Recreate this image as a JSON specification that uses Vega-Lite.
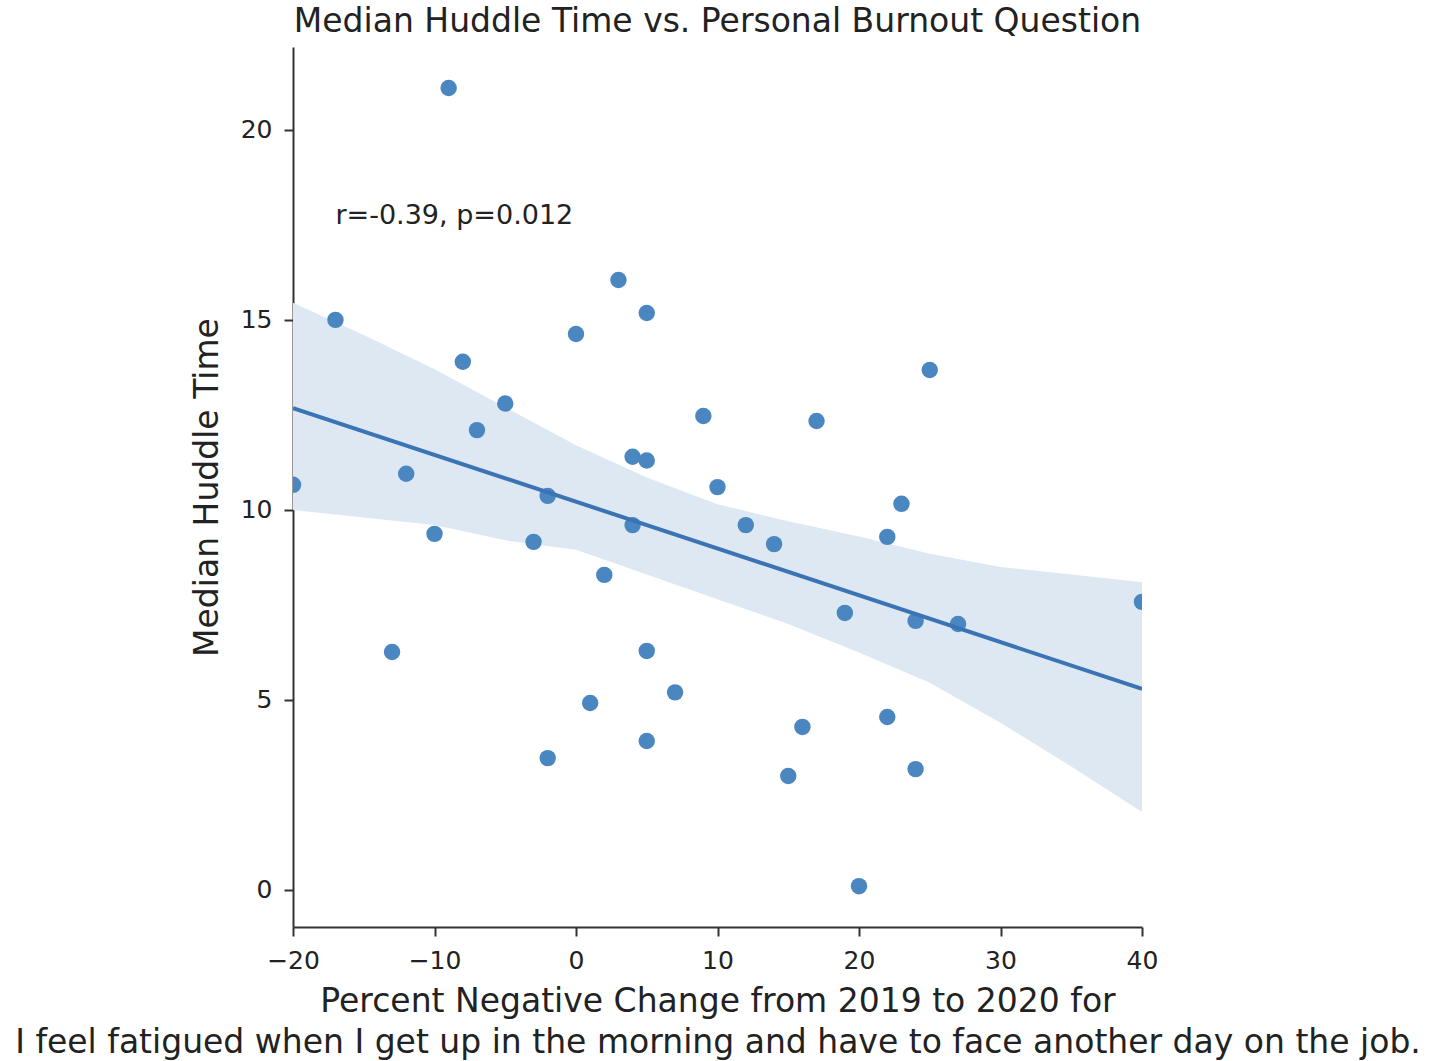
{
  "$schema": "https://vega.github.io/schema/vega-lite/v6.json",
  "autosize": {"type": "none"},
  "padding": {"left": 293, "top": 47, "right": 309, "bottom": 134},
  "width": 849,
  "height": 880,
  "background": "white",
  "title": {
    "text": "Median Huddle Time vs. Personal Burnout Question",
    "font": "DejaVu Sans",
    "fontSize": 33,
    "fontWeight": "normal",
    "color": "#222222",
    "anchor": "middle",
    "offset": 8
  },
  "config": {
    "view": {"stroke": null},
    "axis": {
      "grid": false,
      "domainColor": "#333333",
      "domainWidth": 2,
      "tickColor": "#333333",
      "tickWidth": 2,
      "tickSize": 9,
      "labelFont": "DejaVu Sans",
      "labelFontSize": 25,
      "labelColor": "#222222",
      "labelFlush": false,
      "labelOverlap": false,
      "labelBound": false,
      "titleFont": "DejaVu Sans",
      "titleFontSize": 33,
      "titleFontWeight": "normal",
      "titleColor": "#222222"
    }
  },
  "datasets": {
    "points": [
      {"change": -9, "huddle": 21.1},
      {"change": -17, "huddle": 15.0},
      {"change": -8, "huddle": 13.9},
      {"change": -5, "huddle": 12.8},
      {"change": -7, "huddle": 12.1},
      {"change": -12, "huddle": 10.95},
      {"change": -20, "huddle": 10.66},
      {"change": -10, "huddle": 9.37},
      {"change": -13, "huddle": 6.26},
      {"change": -2, "huddle": 10.37},
      {"change": -3, "huddle": 9.16},
      {"change": -2, "huddle": 3.47},
      {"change": 0, "huddle": 14.63},
      {"change": 3, "huddle": 16.05},
      {"change": 5, "huddle": 15.18},
      {"change": 4, "huddle": 11.4},
      {"change": 5, "huddle": 11.3},
      {"change": 4, "huddle": 9.6},
      {"change": 2, "huddle": 8.29},
      {"change": 5, "huddle": 6.29},
      {"change": 1, "huddle": 4.92},
      {"change": 5, "huddle": 3.92},
      {"change": 7, "huddle": 5.2},
      {"change": 9, "huddle": 12.47},
      {"change": 10, "huddle": 10.6},
      {"change": 12, "huddle": 9.6},
      {"change": 14, "huddle": 9.1},
      {"change": 17, "huddle": 12.34},
      {"change": 16, "huddle": 4.29},
      {"change": 15, "huddle": 3.0},
      {"change": 19, "huddle": 7.29},
      {"change": 20, "huddle": 0.1},
      {"change": 22, "huddle": 9.29},
      {"change": 22, "huddle": 4.55},
      {"change": 23, "huddle": 10.16},
      {"change": 24, "huddle": 7.08},
      {"change": 24, "huddle": 3.18},
      {"change": 25, "huddle": 13.68},
      {"change": 27, "huddle": 7.0},
      {"change": 40, "huddle": 7.58}
    ],
    "band": [
      {"change": -20, "lo": 10.0, "hi": 15.45},
      {"change": -15, "lo": 9.8, "hi": 14.6},
      {"change": -10, "lo": 9.6, "hi": 13.7},
      {"change": -5, "lo": 9.2, "hi": 12.7},
      {"change": 0, "lo": 8.95, "hi": 11.7},
      {"change": 5, "lo": 8.3, "hi": 10.85},
      {"change": 10, "lo": 7.65, "hi": 10.15},
      {"change": 15, "lo": 7.0, "hi": 9.7},
      {"change": 20, "lo": 6.25, "hi": 9.3},
      {"change": 25, "lo": 5.45, "hi": 8.85},
      {"change": 30, "lo": 4.4, "hi": 8.5},
      {"change": 35, "lo": 3.25, "hi": 8.3},
      {"change": 40, "lo": 2.05, "hi": 8.1}
    ],
    "fit": [
      {"change": -20, "huddle": 12.68},
      {"change": 40, "huddle": 5.29}
    ],
    "note": [
      {"change": -17, "huddle": 17.53, "label": "r=-0.39, p=0.012"}
    ]
  },
  "layer": [
    {
      "data": {"name": "band"},
      "mark": {"type": "area", "color": "#dde8f2", "opacity": 1, "clip": true},
      "encoding": {
        "x": {
          "field": "change",
          "type": "quantitative",
          "scale": {"domain": [-20, 40], "nice": false, "zero": false},
          "axis": {
            "values": [-20, -10, 0, 10, 20, 30, 40],
            "labelPadding": 12,
            "title": ["Percent Negative Change from 2019 to 2020 for", "I feel fatigued when I get up in the morning and have to face another day on the job."],
            "titlePadding": 12,
            "titleLineHeight": 41
          }
        },
        "y": {
          "field": "lo",
          "type": "quantitative",
          "scale": {"domain": [-0.974, 22.18], "nice": false, "zero": false},
          "axis": {
            "values": [0, 5, 10, 15, 20],
            "labelPadding": 12,
            "title": "Median Huddle Time",
            "titlePadding": 16
          }
        },
        "y2": {"field": "hi"}
      }
    },
    {
      "data": {"name": "points"},
      "mark": {"type": "circle", "size": 270, "color": "#4a86c0", "opacity": 1, "clip": true},
      "encoding": {
        "x": {"field": "change", "type": "quantitative"},
        "y": {"field": "huddle", "type": "quantitative"}
      }
    },
    {
      "data": {"name": "fit"},
      "mark": {"type": "line", "color": "#3a74b4", "strokeWidth": 4, "clip": true},
      "encoding": {
        "x": {"field": "change", "type": "quantitative"},
        "y": {"field": "huddle", "type": "quantitative"}
      }
    },
    {
      "data": {"name": "note"},
      "mark": {"type": "text", "align": "left", "baseline": "alphabetic", "font": "DejaVu Sans", "fontSize": 27, "color": "#222222"},
      "encoding": {
        "x": {"field": "change", "type": "quantitative"},
        "y": {"field": "huddle", "type": "quantitative"},
        "text": {"field": "label"}
      }
    }
  ]
}
